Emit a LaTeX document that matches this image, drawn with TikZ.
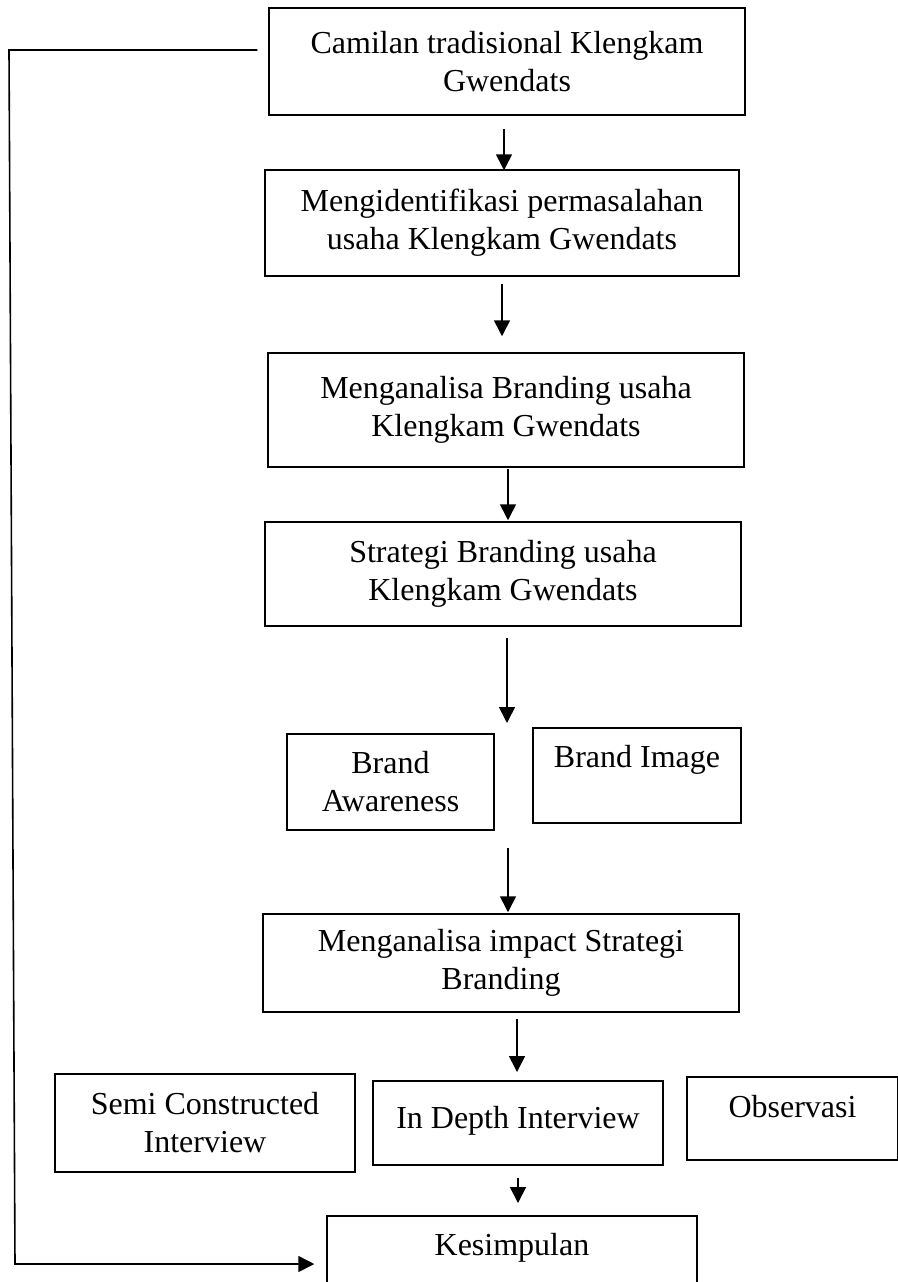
\documentclass[tikz,border=0pt]{standalone}
\usepackage{fontspec}
\setmainfont{Liberation Serif}
\usetikzlibrary{arrows.meta,calc}

\begin{document}
\begin{tikzpicture}[x=1pt,y=-1pt,
	box/.style={draw,line width=1.5pt,align=center,inner sep=0pt,
		font=\fontsize{32}{38}\selectfont},
	topbox/.style={box,anchor=north},
	arr/.style={line width=1.6pt,-{Triangle[length=16pt,width=16pt]}}]
\useasboundingbox (0,0) rectangle (897,1282);
% main column
\node[box,minimum width=476pt,minimum height=107pt] (camilan) at (507,61.5)
	{Camilan tradisional Klengkam\\Gwendats};
\node[box,minimum width=474pt,minimum height=106pt] (identifikasi) at (502,223)
	{Mengidentifikasi permasalahan\\usaha Klengkam Gwendats};
\node[box,minimum width=476pt,minimum height=114pt] (branding) at (506,410)
	{Menganalisa Branding usaha\\Klengkam Gwendats};
\node[box,minimum width=476pt,minimum height=104pt] (strategi) at (503,574)
	{Strategi Branding usaha\\Klengkam Gwendats};
\node[box,minimum width=207pt,minimum height=96pt] (awareness) at (390.5,782)
	{Brand\\Awareness};
\node[topbox,minimum width=208pt,text height=40pt,text depth=55pt] (image) at (637,727)
	{Brand Image};
\node[box,minimum width=476pt,minimum height=98pt] (impact) at (501,963)
	{Menganalisa impact Strategi\\Branding};
\node[box,minimum width=300pt,minimum height=98pt] (semi) at (205,1123)
	{Semi Constructed\\Interview};
\node[topbox,minimum width=290pt,text height=48pt,text depth=36pt] (indepth) at (518,1080)
	{In Depth Interview};
\node[topbox,minimum width=211pt,text height=41pt,text depth=42pt] (observasi) at (792.5,1076)
	{Observasi};
\node[topbox,minimum width=370pt,text height=40pt,text depth=70pt] (kesimpulan) at (512,1215)
	{Kesimpulan};
\coordinate (split) at (507,723);
\coordinate (merge) at (508,848);
\coordinate (fbtop) at (9,50);
\coordinate (fbend) at (15,1264);
% arrows
\draw[arr] ($(camilan.south)+(-3,13)$) -- ($(identifikasi.north)+(2,1)$);
\draw[arr] ($(identifikasi.south)+(0,7)$) -- ($(branding.north)+(-4,-16)$);
\draw[arr] ($(branding.south)+(2,1)$) -- ($(strategi.north)+(5,-1)$);
\draw[arr] ($(strategi.south)+(4,11)$) -- (split);
\draw[arr] (merge) -- ($(impact.north)+(7,-1)$);
\draw[arr] ($(impact.south)+(16,6)$) -- ($(indepth.north)+(-1,-8)$);
\draw[arr] ($(indepth.south)+(0,12)$) -- ($(kesimpulan.north)+(6,-12)$);
% feedback line
\draw[arr,shorten >=12pt] ($(camilan.west)+(-11,-11.5)$) -- (fbtop) -- (fbend)
	-- (fbend -| kesimpulan.west);
\end{tikzpicture}
\end{document}
